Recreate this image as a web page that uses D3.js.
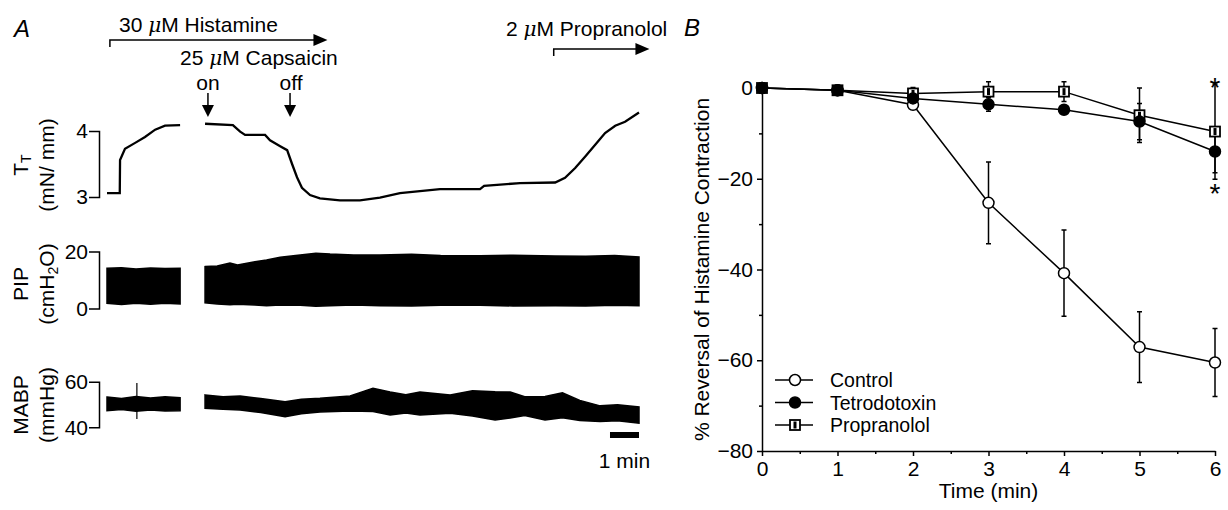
<!DOCTYPE html>
<html>
<head>
<meta charset="utf-8">
<script src="https://cdn.jsdelivr.net/npm/d3@7/dist/d3.min.js"></script>
<style>
body{margin:0;background:#fff;}
text{font-family:"Liberation Sans",Arial,sans-serif;fill:#000;}
</style>
</head>
<body>
<svg id="fig" width="1228" height="510"></svg>
<script>
// ---- panel A : recordings (time in min from start of record) ----
// tension T_T (mN/mm), [t, value]
var tension_seg1 = [[0,3.06],[0.38,3.06],[0.44,3.06],[0.45,3.56],[0.62,3.73],[0.97,3.82],[1.31,3.91],[1.66,4.02],[2.0,4.08],[2.52,4.09]];
var tension_seg2 = [[3.38,4.11],[4.34,4.09],[4.59,3.99],[4.76,3.94],[5.45,3.94],[5.62,3.86],[5.97,3.77],[6.21,3.71],
    [6.38,3.50],[6.55,3.30],[6.72,3.14],[7.0,3.03],[7.34,2.98],[8.03,2.95],[8.72,2.95],[9.41,2.99],[10.1,3.06],
    [11.48,3.12],[12.86,3.12],[13.0,3.17],[14.24,3.21],[15.45,3.22],[15.79,3.29],[16.14,3.44],[16.48,3.61],
    [16.83,3.79],[17.17,3.97],[17.52,4.08],[17.86,4.14],[18.34,4.28]];
// PIP envelope (cmH2O), [t, low, high]
var pip_seg1 = [[0,1.8,14.1],[0.5,1.4,14.3],[1.0,1.8,13.9],[1.5,1.5,14.2],[2.0,1.8,14.0],[2.52,1.6,14.1]];
var pip_seg2 = [[3.38,2.0,14.7],[3.8,1.6,14.9],[4.24,1.3,16.0],[4.5,1.5,15.3],[5.1,1.2,16.4],[5.5,1.0,17.0],[5.97,1.2,18.0],
    [6.66,1.1,18.8],[7.2,0.8,19.4],[7.69,1.0,19.1],[8.5,1.2,18.8],[9.41,1.0,18.8],[10.5,0.9,19.0],[11.5,1.1,18.6],
    [12.86,1.1,18.5],[14.0,0.9,18.7],[15.45,1.0,18.4],[16.5,0.9,18.3],[17.5,1.1,18.6],[18.34,1.0,18.1]];
// MABP envelope (mmHg), [t, low, high]
var mabp_seg1 = [[0,47.3,53.3],[0.5,47.8,52.6],[1.0,47.0,53.5],[1.5,47.6,52.8],[2.0,47.1,53.4],[2.52,47.3,53.0]];
var mabp_seg2 = [[3.38,48.3,54.2],[4.0,47.9,53.4],[4.59,47.6,53.7],[5.3,46.5,52.6],[6.14,44.6,51.2],[6.7,45.9,52.3],
    [7.34,46.7,52.7],[8.38,47.1,53.7],[9.17,46.9,57.1],[9.76,45.4,55.5],[10.3,46.3,54.3],[10.79,45.4,55.5],
    [11.83,46.2,54.2],[12.6,45.0,56.0],[13.38,43.2,55.6],[13.9,44.1,55.5],[14.4,45.2,53.4],[15.1,43.2,53.5],
    [15.7,44.2,55.1],[16.3,43.0,51.8],[17.0,42.5,49.4],[17.6,42.9,49.9],[18.34,41.8,48.9]];
var mabp_spike = [1.03, 43.6, 59.4];
// drug application times (min)
var histamine_on = 0.1, histamine_arrow_end = 7.6;
var capsaicin_on = 3.48, capsaicin_off = 6.31;
var propranolol_on = 15.4, propranolol_arrow_end = 18.7;
var scalebar = [17.34, 18.34];

// ---- panel B : % reversal of histamine contraction ----
var times = [0,1,2,3,4,5,6];
var control = [0,-0.5,-3.7,-25.3,-40.8,-57.1,-60.5];
var control_err = [0,0,0.5,9,9.5,7.8,7.5];
var ttx = [0,-0.5,-2.3,-3.6,-4.8,-7.4,-14];
var ttx_err = [0,0,0.3,1.5,0.6,4,4.7];
var prop = [0,-0.5,-1.2,-0.8,-0.8,-6,-9.6];
var prop_err = [0,0,1.3,2.2,2.2,6,10.5];
var legend_names = ["Control","Tetrodotoxin","Propranolol"];

var FS = 21;
var svg = d3.select('#fig');

// ================= panel A =================
var xA = d3.scaleLinear().domain([0,18.34]).range([107,639]);
var yT = d3.scaleLinear().domain([3,4]).range([197,131]);
var yP = d3.scaleLinear().domain([0,20]).range([308.5,251.5]);
var yM = d3.scaleLinear().domain([40,60]).range([427.3,381.7]);

function bracket(scale, vals){
    var g = svg.append('g').attr('transform','translate(99,0)')
	.call(d3.axisLeft(scale).tickValues(vals).tickSize(0).tickSizeOuter(10).tickPadding(11).tickFormat(d3.format('d')));
    g.select('.domain').attr('stroke','#000').attr('stroke-width',3).attr('fill','none');
    g.selectAll('text').attr('font-size',FS).attr('font-family','"Liberation Sans",Arial,sans-serif');
    return g;
}
bracket(yT,[3,4]);
bracket(yP,[0,20]);
bracket(yM,[40,60]);

var line = d3.line().x(function(d){ return xA(d[0]); }).y(function(d){ return yT(d[1]); });
[tension_seg1, tension_seg2].forEach(function(s){
    svg.append('path').attr('d', line(s)).attr('fill','none').attr('stroke','#000').attr('stroke-width',2.3);
});

function band(scale){
    return d3.area().x(function(d){ return xA(d[0]); })
	.y0(function(d){ return scale(d[1]); }).y1(function(d){ return scale(d[2]); });
}
[pip_seg1, pip_seg2].forEach(function(s){
    svg.append('path').attr('d', band(yP)(s)).attr('fill','#000').attr('stroke','#000').attr('stroke-width',1.5);
});
[mabp_seg1, mabp_seg2].forEach(function(s){
    svg.append('path').attr('d', band(yM)(s)).attr('fill','#000').attr('stroke','#000').attr('stroke-width',1.5);
});
svg.append('line').attr('x1',xA(mabp_spike[0])).attr('x2',xA(mabp_spike[0]))
    .attr('y1',yM(mabp_spike[1])).attr('y2',yM(mabp_spike[2])).attr('stroke','#000').attr('stroke-width',1.2);

// scale bar
svg.append('rect').attr('x',xA(scalebar[0])).attr('width',xA(scalebar[1])-xA(scalebar[0]))
    .attr('y',432).attr('height',6).attr('fill','#000');
svg.append('text').attr('x',(xA(scalebar[0])+xA(scalebar[1]))/2).attr('y',468)
    .attr('text-anchor','middle').attr('font-size',FS).text('1 min');

// rotated trace labels
function ylabel(cy, first, second){
    var t1 = svg.append('text').attr('transform','translate(28,'+cy+') rotate(-90)')
	.attr('text-anchor','middle').attr('font-size',FS);
    first(t1);
    var t2 = svg.append('text').attr('transform','translate(54,'+cy+') rotate(-90)')
	.attr('text-anchor','middle').attr('font-size',FS);
    second(t2);
}
ylabel(165, function(t){
    t.append('tspan').text('T');
    t.append('tspan').attr('font-size',14).attr('dy',3).text('T');
}, function(t){ t.text('(mN/ mm)'); });
ylabel(284, function(t){ t.text('PIP'); }, function(t){
    t.append('tspan').text('(cmH');
    t.append('tspan').attr('font-size',14).attr('dy',4).text('2');
    t.append('tspan').attr('dy',-4).text('O)');
});
ylabel(405, function(t){ t.text('MABP'); }, function(t){ t.text('(mmHg)'); });

// drug annotations
function mu_label(x, y, pre, post){
    var t = svg.append('text').attr('x',x).attr('y',y).attr('font-size',FS);
    t.append('tspan').text(pre + ' ');
    t.append('tspan').attr('font-style','italic').attr('font-family','"DejaVu Serif",serif').attr('font-size',20).text('\u03bc');
    t.append('tspan').text('M ' + post);
}
function right_arrow(t0, t1, y){
    var x0 = xA(t0), x1 = xA(t1);
    svg.append('path').attr('d','M'+x0+','+(y+7)+'V'+y+'H'+(x1-12))
	.attr('fill','none').attr('stroke','#000').attr('stroke-width',1.5);
    svg.append('path').attr('d','M'+(x1-14)+','+(y-6)+'L'+x1+','+y+'L'+(x1-14)+','+(y+6)+'Z').attr('fill','#000');
}
function down_arrow(t, y0, y1){
    var x = xA(t);
    svg.append('line').attr('x1',x).attr('x2',x).attr('y1',y0).attr('y2',y1-10)
	.attr('stroke','#000').attr('stroke-width',1.5);
    svg.append('path').attr('d','M'+(x-6)+','+(y1-12)+'L'+x+','+y1+'L'+(x+6)+','+(y1-12)+'Z').attr('fill','#000');
}
mu_label(119, 32, '30', 'Histamine');
right_arrow(histamine_on, histamine_arrow_end, 40);
mu_label(180, 65, '25', 'Capsaicin');
svg.append('text').attr('x',xA(capsaicin_on)).attr('y',90).attr('text-anchor','middle').attr('font-size',FS).text('on');
svg.append('text').attr('x',xA(capsaicin_off)+1).attr('y',90).attr('text-anchor','middle').attr('font-size',FS).text('off');
down_arrow(capsaicin_on, 93, 117);
down_arrow(capsaicin_off, 93, 117);
mu_label(506, 36, '2', 'Propranolol');
right_arrow(propranolol_on, propranolol_arrow_end, 49);

svg.append('text').attr('x',14).attr('y',37).attr('font-size',24).attr('font-style','italic').text('A');
svg.append('text').attr('x',684).attr('y',36).attr('font-size',24).attr('font-style','italic').text('B');

// ================= panel B =================
var xB = d3.scaleLinear().domain([0,6]).range([762,1215]);
var yB = d3.scaleLinear().domain([-80,0]).range([451,88]);

var gy = svg.append('g').attr('transform','translate(762,0)')
    .call(d3.axisLeft(yB).tickValues([0,-20,-40,-60,-80]).tickSize(5).tickSizeOuter(0).tickPadding(4));
svg.append('g').attr('transform','translate(762,0)')
    .call(d3.axisLeft(yB).tickValues([-10,-30,-50,-70]).tickSize(3).tickFormat(''))
    .select('.domain').remove();
var gx = svg.append('g').attr('transform','translate(0,451)')
    .call(d3.axisBottom(xB).tickValues(times).tickSize(5).tickSizeOuter(0).tickPadding(5).tickFormat(d3.format('d')));
svg.append('g').attr('transform','translate(0,451)')
    .call(d3.axisBottom(xB).tickValues([0.5,1.5,2.5,3.5,4.5,5.5]).tickSize(3).tickFormat(''))
    .select('.domain').remove();
svg.selectAll('.tick line, .domain').attr('stroke','#000').attr('stroke-width',1.5);
[gy, gx].forEach(function(g){
    g.selectAll('text').attr('font-size',FS).attr('font-family','"Liberation Sans",Arial,sans-serif');
});

svg.append('text').attr('x',xB(3)).attr('y',498).attr('text-anchor','middle').attr('font-size',FS).text('Time (min)');
svg.append('text').attr('transform','translate(709,'+yB(-40)+') rotate(-90)')
    .attr('text-anchor','middle').attr('font-size',FS).text('% Reversal of Histamine Contraction');

var series = [
    {name:'Control', vals:control, err:control_err, shape:'circle', fill:'#fff'},
    {name:'Propranolol', vals:prop, err:prop_err, shape:'square', fill:'#fff'},
    {name:'Tetrodotoxin', vals:ttx, err:ttx_err, shape:'circle', fill:'#000'}
];
var lineB = d3.line().x(function(d, i){ return xB(times[i]); }).y(function(d){ return yB(d); });

function marker(g, shape, fill, x, y){
    if(shape == 'circle'){
	g.append('circle').attr('cx',x).attr('cy',y).attr('r',5.5)
	    .attr('fill',fill).attr('stroke','#000').attr('stroke-width',1.5);
    }
    else{
	g.append('rect').attr('x',x-5).attr('y',y-5).attr('width',10).attr('height',10)
	    .attr('fill',fill).attr('stroke','#000').attr('stroke-width',1.8);
	g.append('rect').attr('x',x-1.5).attr('y',y-3.5).attr('width',3).attr('height',7).attr('fill','#000');
    }
}

series.forEach(function(s){
    var g = svg.append('g');
    g.append('path').attr('d', lineB(s.vals)).attr('fill','none').attr('stroke','#000').attr('stroke-width',1.5);
    s.vals.forEach(function(v, i){
	if(s.err[i] > 0){
	    var x = xB(times[i]);
	    g.append('path').attr('d','M'+x+','+yB(v+s.err[i])+'V'+yB(v-s.err[i])
				 +'M'+(x-2.5)+','+yB(v+s.err[i])+'H'+(x+2.5)
				 +'M'+(x-2.5)+','+yB(v-s.err[i])+'H'+(x+2.5))
		.attr('stroke','#000').attr('stroke-width',1.5).attr('fill','none');
	}
    });
});
series.forEach(function(s){
    var g = svg.append('g');
    s.vals.forEach(function(v, i){ marker(g, s.shape, s.fill, xB(times[i]), yB(v)); });
});

// significance
svg.append('text').attr('x',xB(6)).attr('y',97).attr('text-anchor','middle').attr('font-size',28).text('*');
svg.append('text').attr('x',xB(6)).attr('y',203).attr('text-anchor','middle').attr('font-size',28).text('*');

// legend
var legend_rows = [380, 402.5, 425];
var legend_style = [series[0], series[2], series[1]];
legend_names.forEach(function(n, i){
    var g = svg.append('g');
    g.append('line').attr('x1',775).attr('x2',813).attr('y1',legend_rows[i]).attr('y2',legend_rows[i])
	.attr('stroke','#000').attr('stroke-width',1.5);
    marker(g, legend_style[i].shape, legend_style[i].fill, 795, legend_rows[i]);
    g.append('text').attr('x',830).attr('y',legend_rows[i]+7).attr('font-size',19.5).text(n);
});
</script>
</body>
</html>
